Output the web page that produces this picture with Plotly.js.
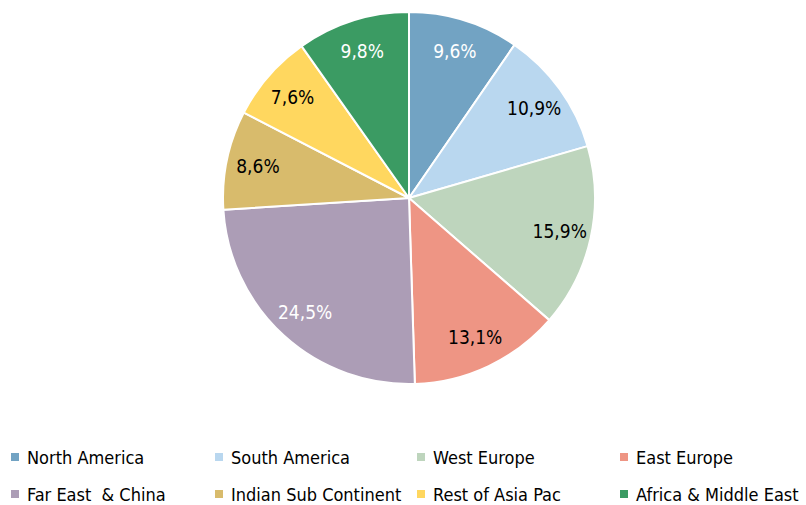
<!DOCTYPE html>
<html><head><meta charset="utf-8">
<script src="https://cdn.plot.ly/plotly-3.0.1.min.js"></script>
<style>html,body{margin:0;padding:0;background:#fff}#chart{width:806px;height:505px}</style>
</head><body><div id="chart"></div>
<script>
const regions = ["North America","South America","West Europe","East Europe","Far East & China","Indian Sub Continent","Rest of Asia Pac","Africa & Middle East"];
const legendNames = ["North America","South America","West Europe","East Europe","Far East  & China","Indian Sub Continent","Rest of Asia Pac","Africa & Middle East"];
const shares = [9.6,10.9,15.9,13.1,24.5,8.6,7.6,9.8];
const colors = ["#72A3C3","#B9D7EF","#BED5BD","#EE9584","#AC9DB6","#D8BB6C","#FFD75F","#3B9B63"];
const labelColors = ["#ffffff","#000000","#000000","#000000","#ffffff","#000000","#000000","#ffffff"];

const FONT = '"Liberation Sans Narrow","Arial Narrow","DejaVu Sans Condensed",sans-serif';
const texts = shares.map(v => v.toFixed(1).replace('.', ',') + '%');

const dom = {x:[0.2767,0.7382], y:[0.2396,0.9762]};
const pie = {
  type:'pie', labels:regions, values:shares, sort:false, direction:'clockwise', rotation:0,
  marker:{colors:colors, line:{color:'#ffffff', width:2}},
  textinfo:'none', hoverinfo:'label+percent', showlegend:false, domain:dom
};
const labelRing = {
  type:'pie', labels:regions, values:shares, sort:false, direction:'clockwise', rotation:0,
  hole:0.66, marker:{colors:colors.map(()=> 'rgba(0,0,0,0)'), line:{width:0}},
  text:texts, textinfo:'text', textposition:'inside', insidetextorientation:'horizontal',
  textfont:{family:FONT, size:19, color:labelColors}, hoverinfo:'skip', showlegend:false, domain:dom
};

const colX = [11, 215, 417, 620];
const rowY = [457, 494];
const W = 806, H = 505;
const shapes = [], annotations = [];
legendNames.forEach((name, i) => {
  const cx = colX[i % 4], cy = rowY[Math.floor(i / 4)];
  shapes.push({type:'rect', xref:'paper', yref:'paper',
    x0: cx / W, x1: (cx + 8) / W, y0: 1 - (cy + 4) / H, y1: 1 - (cy - 4) / H,
    fillcolor: colors[i], line:{width:0}});
  annotations.push({xref:'paper', yref:'paper', x:(cx + 14) / W, y: 1 - cy / H,
    xanchor:'left', yanchor:'middle', showarrow:false, text:name,
    font:{family:FONT, size:18, color:'#000000'}});
});

Plotly.newPlot('chart', [pie, labelRing], {
  width:W, height:H, margin:{l:0,r:0,t:0,b:0},
  paper_bgcolor:'#ffffff', plot_bgcolor:'#ffffff',
  font:{family:FONT}, showlegend:false, shapes:shapes, annotations:annotations
}, {displayModeBar:false, staticPlot:true});
</script></body></html>
